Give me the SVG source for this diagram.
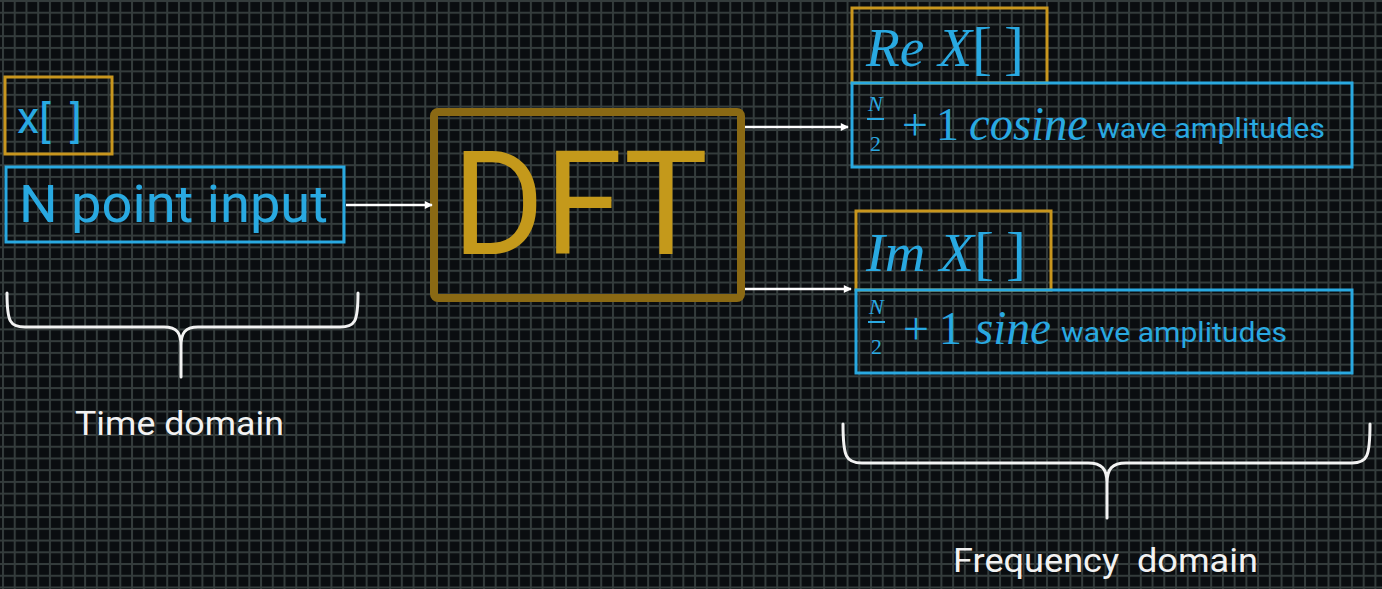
<svg xmlns="http://www.w3.org/2000/svg" width="1382" height="589" viewBox="0 0 1382 589">
<defs>
<pattern id="grid" patternUnits="userSpaceOnUse" x="2" y="0" width="11.73" height="11.73">
<rect x="0" y="0" width="11.73" height="2" fill="#343c3c"/>
<rect x="0" y="0" width="2" height="11.73" fill="#343c3c"/>
</pattern>
<marker id="arr" viewBox="0 0 10 10" refX="9" refY="5" markerWidth="10" markerHeight="8" markerUnits="userSpaceOnUse" orient="auto">
<path d="M0,0 L10,5 L0,10 z" fill="#ffffff"/>
</marker>
<style>
.org{fill:none;stroke:#c8961e;stroke-width:3}
.blu{fill:none;stroke:#29a9e1;stroke-width:3}
.sans{font-family:Roboto,"Liberation Sans",sans-serif;fill:#29a9e1}
.math{font-family:"Liberation Serif","DejaVu Serif",serif;fill:#29a9e1}
.it{font-style:italic}
.wht{font-family:Roboto,"Liberation Sans",sans-serif;fill:#f2f2f2;font-size:33px}
.brace{fill:none;stroke:#f2f2f2;stroke-width:3;stroke-linecap:round}
.conn{stroke:#ffffff;stroke-width:2.5;fill:none}
</style>
</defs>
<rect width="1382" height="589" fill="#0a0d10"/>
<rect width="1382" height="589" fill="url(#grid)"/>

<g id="node-x">
<rect class="org" x="5" y="77" width="107" height="77"/>
<text class="sans" x="17" y="133" font-size="45">x</text>
<text class="sans" x="39" y="137" font-size="45">[</text>
<text class="sans" x="70" y="137" font-size="45">]</text>
</g>
<g id="node-input">
<rect class="blu" x="6" y="167" width="338" height="75"/>
<text class="sans" x="19" y="222" font-size="51" textLength="309" lengthAdjust="spacingAndGlyphs">N point input</text>
</g>
<g id="node-dft">
<rect x="434" y="112" width="307" height="186" rx="4" fill="none" stroke="#8a6914" stroke-width="8"/>
<text x="452" y="254" font-family="Roboto,'Liberation Sans',sans-serif" font-size="144" fill="#c4991b" textLength="256" lengthAdjust="spacingAndGlyphs">DFT</text>
</g>
<g id="node-re">
<rect class="org" x="852" y="8" width="195" height="75"/>
<text class="math it" x="866" y="66" font-size="54" textLength="106" lengthAdjust="spacingAndGlyphs">Re X</text>
<text class="math" x="972" y="68" font-size="60">[</text>
<text class="math" x="1004" y="68" font-size="60">]</text>
</g>
<g id="node-cos">
<rect class="blu" x="852" y="83" width="500" height="84"/>
<text class="math it" x="868" y="111" font-size="22">N</text>
<line x1="867" y1="119" x2="884" y2="119" stroke="#29a9e1" stroke-width="2"/>
<text class="math" x="870" y="151" font-size="22">2</text>
<text class="math" x="902" y="140" font-size="46">+</text>
<text class="math" x="936" y="140" font-size="46">1</text>
<text class="math it" x="969" y="140" font-size="48" textLength="119" lengthAdjust="spacingAndGlyphs">cosine</text>
<text class="sans" x="1097" y="138" font-size="28" textLength="228" lengthAdjust="spacingAndGlyphs">wave amplitudes</text>
</g>
<g id="node-im">
<rect class="org" x="856" y="211" width="195" height="79"/>
<text class="math it" x="866" y="271" font-size="54" textLength="108" lengthAdjust="spacingAndGlyphs">Im X</text>
<text class="math" x="974" y="273" font-size="60">[</text>
<text class="math" x="1006" y="273" font-size="60">]</text>
</g>
<g id="node-sin">
<rect class="blu" x="856" y="290" width="496" height="83"/>
<text class="math it" x="869" y="314" font-size="22">N</text>
<line x1="868" y1="322" x2="885" y2="322" stroke="#29a9e1" stroke-width="2"/>
<text class="math" x="871" y="354" font-size="22">2</text>
<text class="math" x="903" y="344" font-size="46">+</text>
<text class="math" x="939" y="344" font-size="46">1</text>
<text class="math it" x="975" y="344" font-size="48" textLength="76" lengthAdjust="spacingAndGlyphs">sine</text>
<text class="sans" x="1061" y="342" font-size="28" textLength="226" lengthAdjust="spacingAndGlyphs">wave amplitudes</text>
</g>
<g id="node-time">
<path class="brace" d="M7,293 C7,322 10,327 25,327 L164,327 C177,327 181,333 181,346 L181,377 M181,346 C181,333 185,327 198,327 L340,327 C355,327 358,322 358,293"/>
<text class="wht" x="75" y="435" textLength="209" lengthAdjust="spacingAndGlyphs">Time domain</text>
</g>
<g id="node-freq">
<path class="brace" d="M843,424 C843,457 846,463 862,463 L1088,463 C1102,463 1107,469 1107,483 L1107,518 M1107,483 C1107,469 1112,463 1126,463 L1352,463 C1367,463 1370,457 1370,424"/>
<text class="wht" x="953" y="572" textLength="305" lengthAdjust="spacingAndGlyphs" xml:space="preserve">Frequency  domain</text>
</g>
<g id="connectors">
<line class="conn" x1="346" y1="205" x2="432" y2="205" marker-end="url(#arr)"/>
<line class="conn" x1="745" y1="127" x2="848" y2="127" marker-end="url(#arr)"/>
<line class="conn" x1="745" y1="289" x2="851" y2="289" marker-end="url(#arr)"/>
</g>
</svg>
